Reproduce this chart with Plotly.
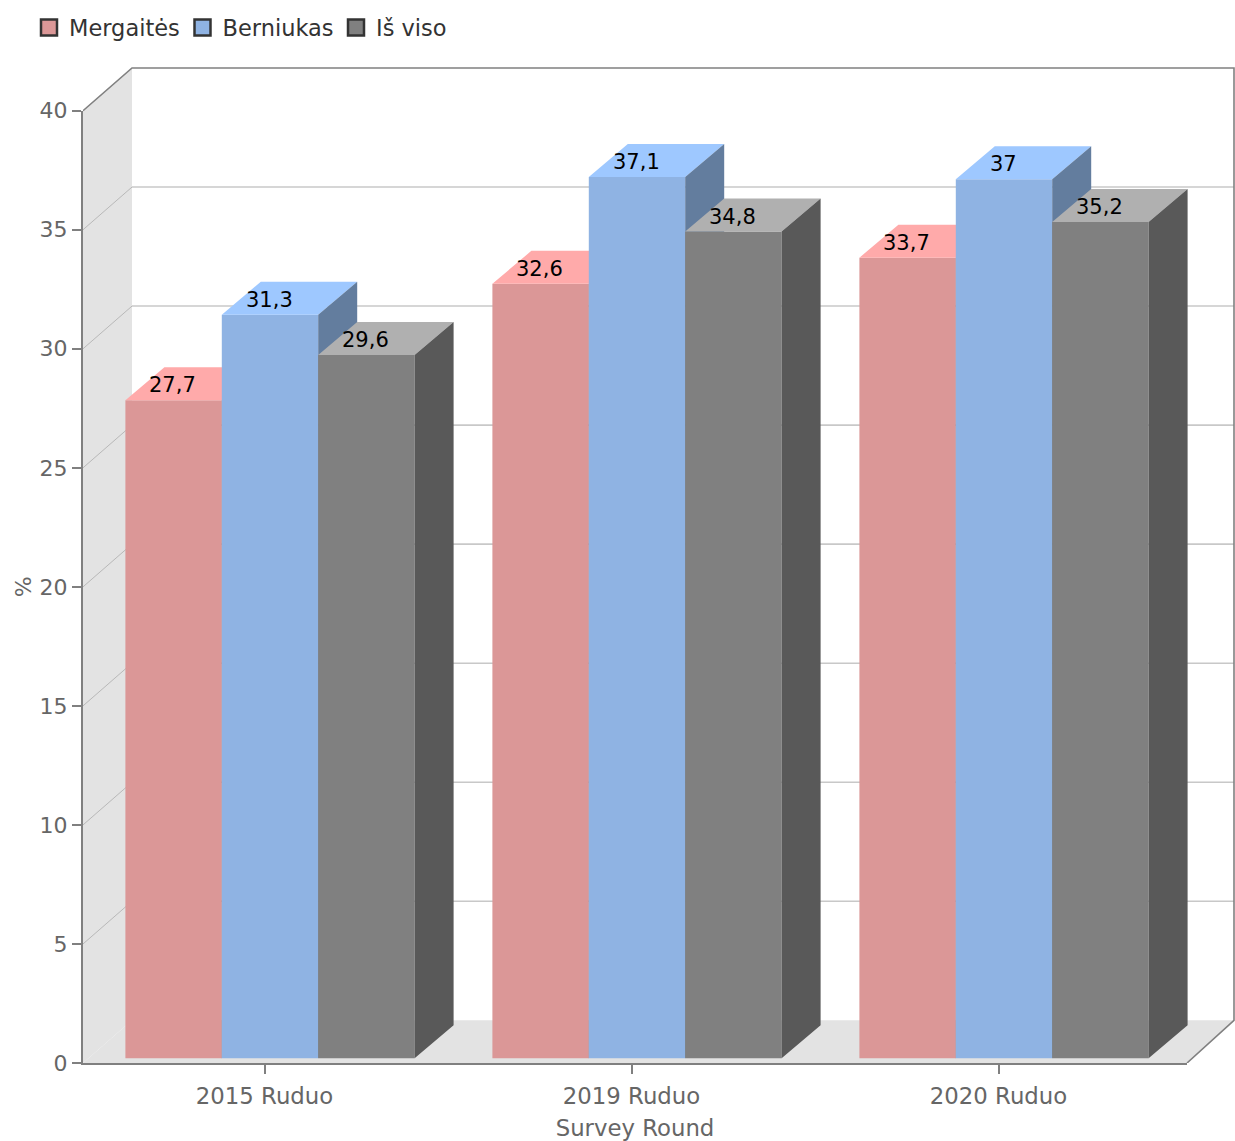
import plotly.graph_objects as go

# ---- data ----
categories = ["2015 Ruduo", "2019 Ruduo", "2020 Ruduo"]
series_names = ["Mergaitės", "Berniukas", "Iš viso"]
girls = [27.7, 32.6, 33.7]
boys = [31.3, 37.1, 37.0]
total = [29.6, 34.8, 35.2]
y_ticks = [0, 5, 10, 15, 20, 25, 30, 35, 40]

# ---- styling / layout ----
FRONT = ["#DB9797", "#8FB3E3", "#808080"]
TOP = ["#FFAAAA", "#9EC8FF", "#B0B0B0"]
SIDE = ["#996A6A", "#637D9E", "#595959"]
FONT = "DejaVu Sans"
W, H = 1235, 1141
L, R, T, B = 83, 1187, 110.7, 1062.7      # visible axes box
OUT_R, OUT_T = 1235, 60                    # box that also holds the 3D walls
PX_CAT = 367
TICK0_PX = 264.5
K_AXIS = (B - T) / 40
K_BAR = 23.75
BAR_BASE_PX = 1058
BAR_W = 96.4 / PX_CAT
BAR_SHIFT = 5.5 / PX_CAT
BAR_DX = 39 / PX_CAT
BAR_DY = 33 / K_BAR
WALL_DX = 49 / PX_CAT
WALL_DX_R = 47 / PX_CAT
WALL_DY = 42.7 / K_AXIS

x_tick_range = [(L - TICK0_PX) / PX_CAT, (R - TICK0_PX) / PX_CAT]
x_wide_range = [x_tick_range[0], (OUT_R - TICK0_PX) / PX_CAT]
y_wide_range = [0, (B - OUT_T) / K_AXIS]
bar_range = [(BAR_BASE_PX - B) / K_BAR, (BAR_BASE_PX - OUT_T) / K_BAR]

fig = go.Figure()


def poly(xs, ys, color, yaxis="y"):
    fig.add_trace(go.Scatter(x=xs, y=ys, mode="lines", fill="toself", fillcolor=color,
                             line=dict(width=0), hoverinfo="skip", showlegend=False,
                             yaxis=yaxis))


x0, x1 = x_tick_range
WALL_GREY = "#E3E3E3"
# left wall and floor
poly([x0, x0, x0 + WALL_DX, x0 + WALL_DX], [0, 40, 40 + WALL_DY, WALL_DY], WALL_GREY)
poly([x0, x1, x1 + WALL_DX_R, x0 + WALL_DX], [0, 0, WALL_DY, WALL_DY], WALL_GREY)

# grid lines on the back wall and left wall
for v in y_ticks[1:-1]:
    fig.add_trace(go.Scatter(x=[x0 + WALL_DX, x1 + WALL_DX_R], y=[v + WALL_DY] * 2, mode="lines",
                             line=dict(color="#C8C8C8", width=1.6), hoverinfo="skip",
                             showlegend=False))
    fig.add_trace(go.Scatter(x=[x0, x0 + WALL_DX], y=[v, v + WALL_DY], mode="lines",
                             line=dict(color="#B8B8B8", width=1), hoverinfo="skip",
                             showlegend=False))

# wall outline
fig.add_trace(go.Scatter(
    x=[x0, x0 + WALL_DX, x1 + WALL_DX_R, x1 + WALL_DX_R, x1],
    y=[40, 40 + WALL_DY, 40 + WALL_DY, WALL_DY, 0],
    mode="lines", line=dict(color="#808080", width=1.6), hoverinfo="skip",
    showlegend=False))

# bars, one overlay axis per series so later series paint over earlier ones
for j, (name, vals) in enumerate(zip(series_names, [girls, boys, total])):
    ya = f"y{j + 2}"
    xs = [i + BAR_SHIFT + (j - 1) * BAR_W for i in range(len(categories))]
    fig.add_trace(go.Bar(x=xs, y=vals, width=BAR_W, marker=dict(color=FRONT[j], line=dict(width=0)),
                         name=name, showlegend=False, yaxis=ya))
    top_x, top_y, side_x, side_y = [], [], [], []
    for x, v in zip(xs, vals):
        a, b = x - BAR_W / 2, x + BAR_W / 2
        top_x += [a, b, b + BAR_DX, a + BAR_DX, a, None]
        top_y += [v, v, v + BAR_DY, v + BAR_DY, v, None]
        side_x += [b, b, b + BAR_DX, b + BAR_DX, b, None]
        side_y += [0, v, v + BAR_DY, BAR_DY, 0, None]
    poly(top_x, top_y, TOP[j], ya)
    poly(side_x, side_y, SIDE[j], ya)
    for x, v in zip(xs, vals):
        fig.add_annotation(x=x, y=v, xref="x", yref=ya, yshift=15, xshift=-1, yanchor="middle",
                           text=f"{v:g}".replace(".", ","), showarrow=False,
                           font=dict(family=FONT, size=21, color="#000000"))

# legend entries
for name, c in zip(series_names, FRONT):
    fig.add_trace(go.Scatter(x=[None], y=[None], mode="markers", name=name,
                             marker=dict(symbol="square", size=16, color=c,
                                         line=dict(color="#333333", width=2.5))))

# subplot that carries the visible axes, painted above the walls
fig.add_trace(go.Scatter(x=[None], y=[None], xaxis="x2", yaxis="y5", mode="lines",
                         showlegend=False, hoverinfo="skip"))

overlay = dict(overlaying="y", anchor="x", visible=False, range=bar_range, autorange=False, fixedrange=True)
axis_font = dict(family=FONT, size=22, color="#666666")
x_font = dict(family=FONT, size=22.8, color="#666666")
inner_w = OUT_R - L
inner_h = B - OUT_T
fig.update_layout(
    width=W, height=H,
    margin=dict(l=L, r=W - OUT_R, t=OUT_T, b=H - B, pad=0, autoexpand=False),
    paper_bgcolor="white", plot_bgcolor="rgba(0,0,0,0)",
    barmode="overlay",
    font=dict(family=FONT, size=22, color="#666666"),
    xaxis=dict(range=x_wide_range, domain=[0, 1], anchor="y", visible=False, fixedrange=True),
    yaxis=dict(range=y_wide_range, domain=[0, 1], anchor="x", visible=False, fixedrange=True),
    yaxis2=overlay, yaxis3=overlay, yaxis4=overlay,
    xaxis2=dict(range=x_tick_range, domain=[0, (R - L) / inner_w], anchor="y5", tickmode="array",
                tickvals=list(range(len(categories))), ticktext=categories,
                showgrid=False, zeroline=False, showline=True, linecolor="#808080", linewidth=2,
                ticks="outside", ticklen=9, tickwidth=1.5, tickcolor="#808080",
                ticklabelstandoff=3, tickfont=x_font,
                title=dict(text="Survey Round", standoff=13, font=x_font)),
    yaxis5=dict(range=[0, 40], domain=[0, (B - T) / inner_h], anchor="x2", tickmode="array",
                tickvals=y_ticks, showgrid=False, zeroline=False,
                showline=True, linecolor="#808080", linewidth=2,
                ticks="outside", ticklen=9, tickwidth=1.5, tickcolor="#808080",
                tickfont=axis_font,
                title=dict(text="%", standoff=2, font=axis_font)),
    showlegend=True,
    legend=dict(orientation="h", x=(29 - L) / inner_w, xanchor="left",
                y=(B - 28) / inner_h, yanchor="middle",
                entrywidth=108.5, entrywidthmode="pixels", bgcolor="rgba(0,0,0,0)",
                itemsizing="trace", font=dict(family=FONT, size=22.5, color="#333333")),
)

fig.write_html("out.html", config={"displayModeBar": False},
               post_script="document.body.style.margin='0';")
